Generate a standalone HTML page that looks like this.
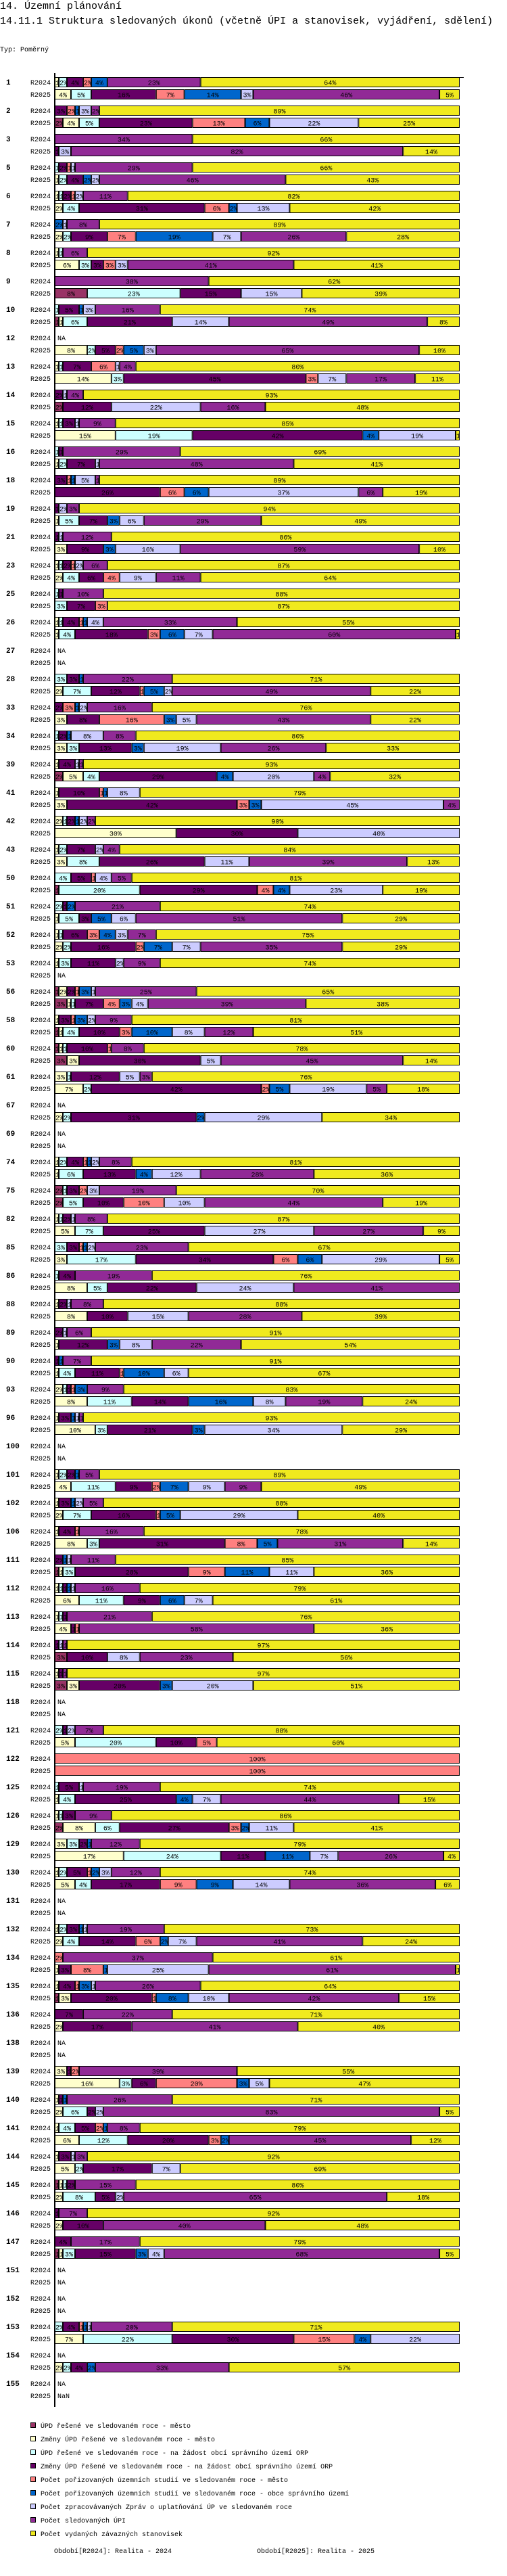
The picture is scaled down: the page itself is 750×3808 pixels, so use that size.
<!DOCTYPE html>
<html><head><meta charset="utf-8">
<style>
html,body{margin:0;padding:0;background:#fff;}
svg{display:block;font-family:"Liberation Mono",monospace;}
</style></head>
<body>
<svg id="chart" width="750" height="3808" viewBox="0 0 750 3808" xmlns="http://www.w3.org/2000/svg">
<text x="0" y="13" font-size="15">14. Územní plánování</text>
<text x="0" y="35" font-size="15">14.11.1 Struktura sledovaných úkonů (včetně ÚPI a stanovisek, vyjádření, sdělení)</text>
<text x="0" y="76" font-size="10">Typ: Poměrný</text>
<g id="bars"></g>
<g id="legend"></g>
<text x="80" y="3774" font-size="10">Období[R2024]: Realita - 2024</text>
<text x="380" y="3774" font-size="10">Období[R2025]: Realita - 2025</text>
</svg>
<script>
const categories = [1,2,3,5,6,7,8,9,10,12,13,14,15,16,18,19,21,23,25,26,27,28,33,34,39,41,42,43,50,51,52,53,56,58,60,61,67,69,74,75,82,85,86,88,89,90,93,96,100,101,102,106,111,112,113,114,115,118,121,122,125,126,129,130,131,132,134,135,136,138,139,140,141,144,145,146,147,151,152,153,154,155];
const seriesNames = ["ÚPD řešené ve sledovaném roce - město","Změny ÚPD řešené ve sledovaném roce - město","ÚPD řešené ve sledovaném roce - na žádost obcí správního území ORP","Změny ÚPD řešené ve sledovaném roce - na žádost obcí správního území ORP","Počet pořizovaných územních studií ve sledovaném roce - město","Počet pořizovaných územních studií ve sledovaném roce - obce správního území","Počet zpracovávaných Zpráv o uplatňování ÚP ve sledovaném roce","Počet sledovaných ÚPI","Počet vydaných závazných stanovisek"];
const seriesColors = ["#993366","#FFFFCC","#CCFFFF","#660066","#FF8080","#0066CC","#CCCCFF","#912A96","#F0EA1E"];
const r2024 = [
[0,1,2,4,2,4,0,23,64],[0,0,0,3,2,1,3,2,89],[0,0,0,0,0,0,0,34,66],[0,0,1,2,1,0,1,29,66],[0,1,1,2,1,0,2,11,82],
[0,0,0,0,0,2,1,8,89],[0,1,1,0,0,0,0,6,92],[0,0,0,0,0,0,0,38,62],[0,0,1,5,0,1,3,16,74],null,
[0,1,1,7,6,0,1,4,80],[0,0,0,2,0,0,1,4,93],[0,1,1,3,0,0,1,9,85],[0,0,1,1,0,0,0,29,69],[0,0,0,3,1,1,5,1,89],
[0,0,0,1,0,0,2,3,94],[0,0,0,1,0,0,1,12,86],[0,1,1,2,1,0,2,6,87],[0,0,1,1,0,0,0,10,88],[0,1,1,4,1,1,4,33,55],
null,[0,0,3,3,0,1,0,22,71],[0,0,0,2,3,1,2,16,76],[0,0,1,2,0,1,8,8,80],[0,1,0,4,0,0,1,1,93],
[0,1,0,10,1,1,8,0,79],[0,2,1,2,0,1,2,2,90],[0,1,2,7,0,0,2,4,84],[0,0,4,5,1,0,4,5,81],[0,0,2,1,0,2,0,21,74],
[0,1,1,6,3,4,3,7,75],[0,1,3,11,0,0,2,9,74],[1,2,0,2,1,3,1,25,65],[0,1,0,3,1,3,2,9,81],[1,1,1,10,1,0,0,8,78],
[0,3,1,12,0,0,5,3,76],null,null,[0,1,2,4,1,1,2,8,81],[2,0,1,3,2,0,3,19,70],
[0,1,1,2,0,0,1,8,87],[0,0,3,3,1,1,2,23,67],[0,0,1,4,0,0,0,19,76],[0,1,0,2,0,0,1,8,88],[0,0,0,2,0,0,1,6,91],
[0,0,0,1,0,1,0,7,91],[0,2,1,1,1,3,0,9,83],[0,1,0,3,0,1,1,1,93],null,[0,1,2,2,0,1,0,5,89],
[0,1,0,3,0,1,2,5,88],[0,1,0,4,1,0,0,16,78],[0,0,0,2,0,1,1,11,85],[0,1,1,1,0,1,1,16,79],[0,1,1,1,0,0,0,21,76],
[0,0,0,1,0,0,1,1,97],[0,1,0,1,0,0,0,1,97],null,[0,0,2,1,0,0,2,7,88],[0,0,0,0,100,0,0,0,0],
[0,0,1,5,0,0,1,19,74],[0,1,1,3,0,0,0,9,86],[0,3,3,2,0,1,0,12,79],[0,1,2,5,1,2,3,12,74],null,
[0,1,2,3,0,1,1,19,73],[0,0,0,0,2,0,0,37,61],[0,1,0,4,1,3,1,26,64],[0,0,0,7,0,0,0,22,71],null,
[0,3,0,1,2,0,0,39,55],[0,1,0,1,0,1,0,26,71],[0,1,4,5,2,1,0,8,79],[0,1,0,3,0,0,1,3,92],[1,1,1,2,0,0,0,15,80],
[0,0,0,1,0,0,0,7,92],[0,0,0,4,0,0,0,17,79],null,null,[0,0,2,4,1,1,1,20,71],
null,null];
const r2025 = [
[0,4,5,16,7,14,3,46,5],[2,4,5,23,13,6,22,0,25],[0,0,0,1,0,0,3,82,14],[0,1,2,4,0,2,2,46,43],[0,2,4,31,6,2,13,0,42],
[0,2,2,9,7,19,7,26,28],[0,6,3,3,3,0,3,41,41],[8,0,23,15,0,0,15,0,39],[1,1,6,21,0,0,14,49,8],[0,8,2,5,2,5,3,65,10],
[0,14,3,45,3,0,7,17,11],[2,0,0,12,0,0,22,16,48],[0,15,19,42,0,4,19,0,1],[0,1,2,7,0,0,1,48,41],[0,0,0,26,6,6,37,6,19],
[0,1,5,7,0,3,6,29,49],[0,3,0,9,0,3,16,59,10],[0,2,4,6,4,0,9,11,64],[0,0,3,7,3,0,0,0,87],[0,1,4,18,3,6,7,60,1],
null,[0,2,7,12,1,5,2,49,22],[0,3,0,8,16,3,5,43,22],[0,3,3,13,0,3,19,26,33],[2,5,4,29,0,4,20,4,32],
[0,3,0,42,3,3,45,4,0],[0,30,0,30,0,0,40,0,0],[0,3,8,26,0,0,11,39,13],[1,0,20,29,4,4,23,0,19],[0,1,5,3,0,5,6,51,29],
[0,2,2,16,2,7,7,35,29],null,[3,1,1,7,4,3,4,39,38],[1,1,4,10,3,10,8,12,51],[3,3,0,30,0,0,5,45,14],
[0,7,2,42,2,5,19,5,18],[0,2,2,31,0,2,29,0,34],null,[0,1,6,13,0,4,12,28,36],[2,0,5,10,10,0,10,44,19],
[0,5,7,25,0,0,27,27,9],[0,3,17,34,6,6,29,0,5],[0,8,5,22,0,0,24,41,0],[0,8,0,10,0,0,15,28,39],[0,1,0,12,0,3,8,22,54],
[0,1,4,11,1,10,6,0,67],[0,8,11,14,0,16,8,19,24],[0,10,3,21,0,3,34,0,29],null,[0,4,11,9,2,7,9,9,49],
[0,2,7,16,1,5,29,0,40],[0,8,3,31,8,5,0,31,14],[1,1,3,28,9,11,11,0,36],[0,6,11,9,0,6,7,0,61],[0,4,0,1,1,0,0,58,36],
[3,0,0,10,0,0,8,23,56],[3,3,0,20,0,3,20,0,51],null,[0,5,20,10,5,0,0,0,60],[0,0,0,0,100,0,0,0,0],
[0,1,4,25,0,4,7,44,15],[2,8,6,27,3,2,11,0,41],[0,17,24,11,0,11,7,26,4],[0,5,4,17,9,9,14,36,6],null,
[0,2,4,14,6,2,7,41,24],[0,1,0,3,8,1,25,61,1],[1,3,0,20,1,8,10,42,15],[0,2,0,17,0,0,0,41,40],null,
[0,16,3,6,20,3,5,0,47],[0,2,6,2,0,0,2,83,5],[0,6,12,20,3,2,0,45,12],[0,5,2,17,0,0,7,0,69],[0,2,8,5,0,0,2,65,18],
[0,2,0,10,0,0,0,40,48],[1,1,3,15,0,3,4,68,5],null,null,[0,7,22,30,15,4,22,0,0],
[0,2,2,4,0,2,0,33,57],"NaN"];

const NS = "http://www.w3.org/2000/svg";
const X0 = 81, X1 = 680, TOP = 114, PITCH = 42, BH = 15;
function xScale(frac){ return X0 + frac * (X1 - X0); }
function groupY(i){ return TOP + i * PITCH; }
function mk(tag, attrs, parent){
  const e = document.createElementNS(NS, tag);
  for (const k in attrs) e.setAttribute(k, attrs[k]);
  parent.appendChild(e);
  return e;
}
const gBars = document.getElementById('bars');

function drawBar(vals, y, cat, yearLabel){
  if (vals === null || vals === "NaN"){
    const t = mk('text', {x: 85, y: y + 11, 'font-size': 10}, gBars);
    
    
    t.textContent = vals === null ? 'NA' : 'NaN';
    return;
  }
  const total = vals.reduce((a,b)=>a+b,0);
  let cum = 0;
  vals.forEach((v, s) => {
    if (v <= 0) return;
    const xa = xScale(cum/total), xb = xScale((cum+v)/total);
    cum += v;
    const w = xb - xa;
    const seg = mk('svg', {x: xa, y: y, width: w, height: BH, overflow: 'hidden'}, gBars);
    
    
    mk('rect', {x: 0.5, y: 0.5, width: Math.max(w - 1, 0.5), height: BH - 1, fill: seriesColors[s], stroke: '#000', 'stroke-width': 1}, seg);
    const t = mk('text', {x: w/2, y: 11.5, 'font-size': 10, 'text-anchor': w > 16 ? 'middle' : 'start', fill: '#000'}, seg);
    if (w <= 16) t.setAttribute('x', 1);
    t.textContent = v + '%';
  });
}

categories.forEach((cat, i) => {
  const y = groupY(i);
  const cl = mk('text', {x: 9, y: y + 11, 'font-size': 11, 'font-weight': 'bold'}, gBars);
  
  
  cl.textContent = cat;
  const l1 = mk('text', {x: 45, y: y + 11, 'font-size': 10}, gBars);
  
  
  l1.textContent = 'R2024';
  const l2 = mk('text', {x: 45, y: y + 29, 'font-size': 10}, gBars);
  
  
  l2.textContent = 'R2025';
  drawBar(r2024[i], y, cat, 'r2024');
  drawBar(r2025[i], y + 18, cat, 'r2025');
});

const axis = mk('line', {x1: 81, y1: 108, x2: 81, y2: 3558, stroke: '#000', 'stroke-width': 2}, gBars);


const tick = mk('line', {x1: 680, y1: 114.5, x2: 686, y2: 114.5, stroke: '#000', 'stroke-width': 1}, gBars);



const gLeg = document.getElementById('legend');
seriesNames.forEach((name, s) => {
  const cy = 3585 + s * 20;
  const g = mk('g', {}, gLeg);
  
  
  mk('rect', {x: 45.5, y: cy - 3.5, width: 7, height: 7, fill: seriesColors[s], stroke: '#000', 'stroke-width': 1}, g);
  const t = mk('text', {x: 60, y: cy + 4, 'font-size': 10}, g);
  t.textContent = name;
});
</script>
</body></html>
